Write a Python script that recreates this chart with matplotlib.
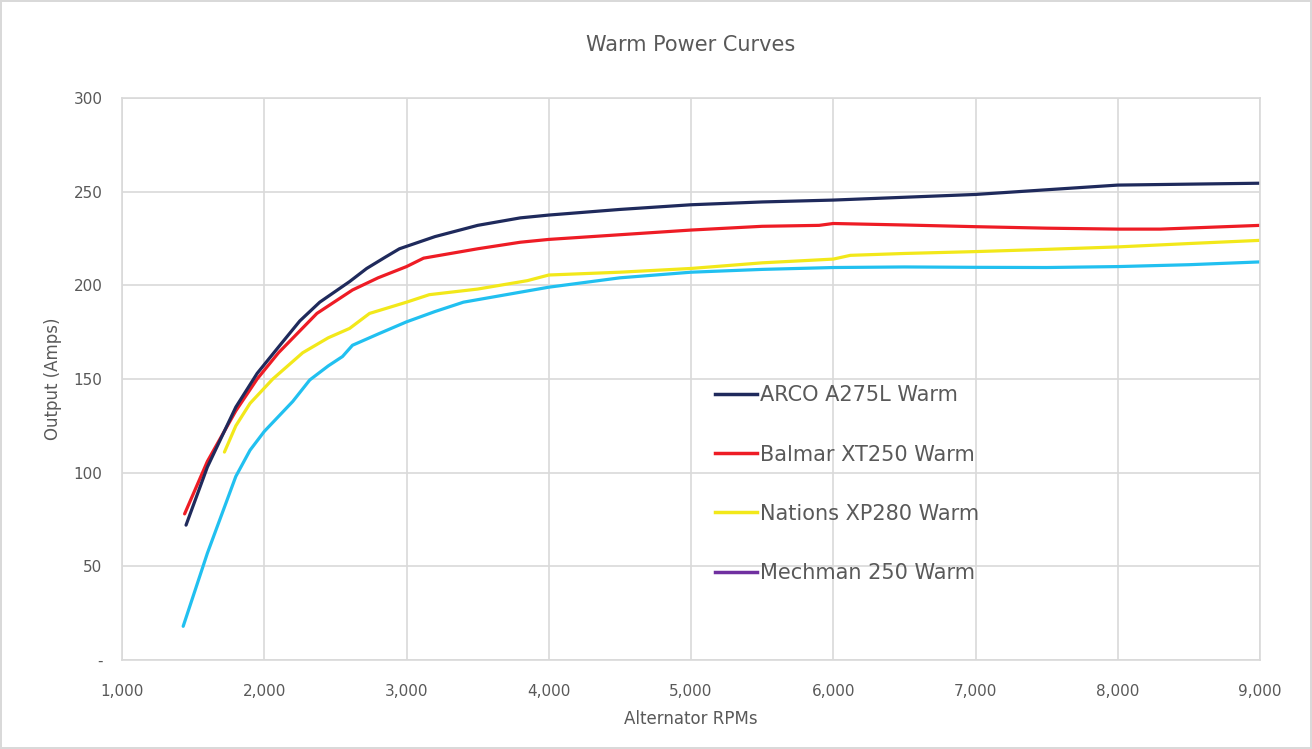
import matplotlib.pyplot as plt
from matplotlib.lines import Line2D
from matplotlib.ticker import FuncFormatter

arco_rpm = [1450, 1600, 1800, 1950, 2110, 2250, 2390, 2600, 2720, 2850, 2950, 3200, 3500, 3800, 4000, 4500, 5000, 5500, 6000, 6500, 7000, 7500, 8000, 8500, 9000]
arco_amps = [72, 103, 135, 153, 168, 181, 191, 202, 209, 215, 219.5, 226, 232, 236, 237.5, 240.5, 243, 244.5, 245.5, 247, 248.5, 251, 253.5, 254, 254.5]

balmar_rpm = [1440, 1600, 1800, 1950, 2100, 2370, 2620, 2800, 3000, 3120, 3500, 3800, 4000, 4500, 5000, 5500, 5900, 6000, 6500, 7000, 7500, 8000, 8300, 9000]
balmar_amps = [78, 106, 133, 150, 164, 185, 197.5, 204, 210, 214.5, 219.5, 223, 224.5, 227, 229.5, 231.5, 232, 233, 232.2, 231.3, 230.5, 230, 230, 232]

nations_rpm = [1720, 1800, 1900, 2060, 2270, 2450, 2600, 2740, 3000, 3160, 3500, 3850, 4000, 4500, 5000, 5500, 6000, 6120, 6500, 7000, 7500, 8000, 8500, 9000]
nations_amps = [111, 125, 137, 150, 164, 172, 177, 185, 191, 195, 198, 202.5, 205.5, 207, 209, 212, 214, 216, 217, 218, 219.2, 220.5, 222.3, 224]

mechman_rpm = [1430, 1600, 1800, 1900, 2000, 2200, 2320, 2450, 2550, 2620, 2800, 3000, 3200, 3400, 3700, 4000, 4500, 5000, 5500, 6000, 6500, 7000, 7500, 8000, 8500, 9000]
mechman_amps = [18, 57, 98, 112, 122, 138, 149.5, 157, 162, 168, 174, 180.5, 186, 191, 195, 199, 204, 207, 208.5, 209.5, 209.8, 209.6, 209.5, 210, 211, 212.5]

series_names = ['ARCO A275L Warm', 'Balmar XT250 Warm', 'Nations XP280 Warm', 'Mechman 250 Warm']
colors = ['#1f2a5c', '#ee1c25', '#f2e81a', '#7030a0']
mechman_line_color = '#21c0f0'

grid_c = '#d9d9d9'
text_c = '#595959'

fig = plt.figure(figsize=(13.12, 7.49), dpi=100)
fig.patch.set_edgecolor(grid_c)
fig.patch.set_linewidth(1.5)
ax = fig.add_axes([0.093, 0.1188, 0.8674, 0.7504])

lw = 2.3
ax.plot(mechman_rpm, mechman_amps, color=mechman_line_color, lw=lw, solid_capstyle='round')
ax.plot(nations_rpm, nations_amps, color=colors[2], lw=lw, solid_capstyle='round')
ax.plot(balmar_rpm, balmar_amps, color=colors[1], lw=lw, solid_capstyle='round')
ax.plot(arco_rpm, arco_amps, color=colors[0], lw=lw, solid_capstyle='round')

ax.set_xlim(1000, 9000)
ax.set_ylim(0, 300)
ax.set_xticks(range(1000, 9001, 1000))
ax.set_yticks(range(0, 301, 50))
ax.xaxis.set_major_formatter(FuncFormatter(lambda v, p: f'{int(v):,}'))
ax.yaxis.set_major_formatter(FuncFormatter(lambda v, p: '-' if v == 0 else f'{int(v)}'))
ax.grid(True, color=grid_c, lw=1.2)
ax.set_axisbelow(True)
for s in ax.spines.values():
    s.set_color(grid_c)
    s.set_linewidth(1.2)
ax.tick_params(axis='x', length=0, colors=text_c, labelsize=11, pad=17)
ax.tick_params(axis='y', length=0, colors=text_c, labelsize=11, pad=14)

ax.set_title('Warm Power Curves', fontsize=15, color=text_c, pad=34)
ax.set_xlabel('Alternator RPMs', fontsize=12, color=text_c, labelpad=8)
ax.set_ylabel('Output (Amps)', fontsize=12, color=text_c, labelpad=8)

handles = [Line2D([0], [0], color=c, lw=2.5) for c in colors]
ax.legend(handles, series_names, loc='upper left', bbox_to_anchor=(0.505, 0.522),
          frameon=False, fontsize=15, labelcolor=text_c, handlelength=2.0,
          handletextpad=0.15, labelspacing=1.88)

fig.savefig('out.png', dpi=100)
